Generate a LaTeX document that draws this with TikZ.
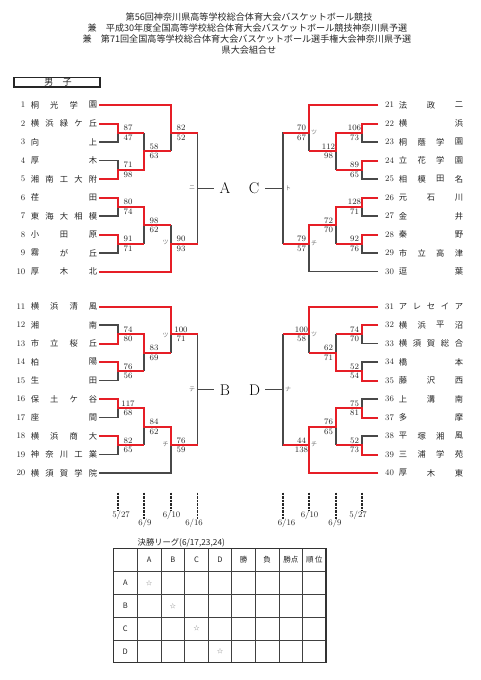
\documentclass[tikz,border=0pt]{standalone}
\usepackage{fontspec}
\newfontfamily\jp{Noto Sans CJK JP}
\definecolor{rd}{RGB}{230,30,38}
\definecolor{gl}{RGB}{72,72,72}
\newcommand\teamL[4]{%
  \node[tnum,anchor=east] (num#1) at (25.5,#2) {#1};
  \foreach \ch [count=\k] in {#4} {\pgfmathsetmacro\xx{35+(\k-1)*58/(#3-1)}\node[tch] (c#1x\k) at (\xx,#2) {\ch};}}
\newcommand\teamR[4]{%
  \node[tnum,anchor=west] (num#1) at (385,#2) {#1};
  \foreach \ch [count=\k] in {#4} {\pgfmathsetmacro\xx{403+(\k-1)*56/(#3-1)}\node[tch] (c#1x\k) at (\xx,#2) {\ch};}}
\newcommand\scL[5]{%
  \node[sc] (#1a) at (#2+10,#3-4.5) {#4};
  \node[sc] (#1b) at (#2+10,#3+5) {#5};}
\newcommand\scR[5]{%
  \node[sc] (#1a) at (#2-7.5,#3-4.5) {#4};
  \node[sc] (#1b) at (#2-7.5,#3+5) {#5};}
% T A B C D E
\newcommand\skel[6]{%
  \draw[gline] (#1,105) -- (#4,105) -- (#4,151.25);
  \draw[gline] (#1,123.5) -- (#2,123.5) -- (#2,142) -- (#1,142);
  \draw[gline] (#1,160.5) -- (#2,160.5) -- (#2,179) -- (#1,179);
  \draw[gline] (#1,197.5) -- (#2,197.5) -- (#2,216) -- (#1,216);
  \draw[gline] (#1,234.5) -- (#2,234.5) -- (#2,253) -- (#1,253);
  \draw[gline] (#1,271.5) -- (#4,271.5) -- (#4,225.25);
  \draw[gline] (#2,132.75) -- (#3,132.75);
  \draw[gline] (#2,169.75) -- (#3,169.75);
  \draw[gline] (#2,206.75) -- (#3,206.75);
  \draw[gline] (#2,243.75) -- (#3,243.75);
  \draw[gline] (#3,132.75) -- (#3,169.75);
  \draw[gline] (#3,206.75) -- (#3,243.75);
  \draw[gline] (#3,151.25) -- (#4,151.25);
  \draw[gline] (#3,225.25) -- (#4,225.25);
  \draw[gline] (#4,132.75) -- (#5,132.75) -- (#5,243.75) -- (#4,243.75);
  \draw[gline] (#5,188.25) -- (#6,188.25);}
\begin{document}
\begin{tikzpicture}[x=1pt,y=-1pt,
  gline/.style={draw=gl,line width=1.1pt},
  rline/.style={draw=rd,line width=2pt},
  tch/.style={inner sep=0pt,font=\jp\fontsize{8.3}{9}\selectfont,text=black!85},
  tnum/.style={inner sep=0pt,font=\fontsize{8.5}{9}\selectfont,text=black!85},
  sc/.style={inner sep=0pt,font=\fontsize{8.3}{9}\selectfont,text=black!85},
  lab/.style={inner sep=0pt,font=\jp\fontsize{6}{6}\selectfont,text=black!55},
  big/.style={inner sep=0pt,font=\fontsize{15.5}{16}\selectfont},
  hd/.style={inner sep=0pt,font=\jp\fontsize{9.1}{10}\selectfont,text=black!85},
  dline/.style={draw=black!85,line width=1.4pt,dash pattern=on 0.9pt off 0.5pt},
  dt/.style={inner sep=0pt,font=\fontsize{8.5}{9}\selectfont,text=black!85},
  tbl/.style={draw=black!75,line width=1pt},
  tblo/.style={draw=black!80,line width=1.5pt},
  th/.style={inner sep=0pt,font=\jp\fontsize{7.5}{8}\selectfont,text=black!85},
  star/.style={inner sep=0pt,font=\jp\fontsize{6}{6}\selectfont,text=black!50}]
\fill[white] (0,0) rectangle (481,680);
\useasboundingbox (0,0) rectangle (481,680);
% header
\node[hd] (h1) at (249,17) {第56回神奈川県高等学校総合体育大会バスケットボール競技};
\node[hd,anchor=west] (h2) at (87.5,28) {兼　平成30年度全国高等学校総合体育大会バスケットボール競技神奈川県予選};
\node[hd,anchor=west] (h3) at (82.5,39) {兼　第71回全国高等学校総合体育大会バスケットボール選手権大会神奈川県予選};
\node[hd] (h4) at (249,50) {県大会組合せ};
\draw[draw=black!85,line width=1.4pt] (14,77.5) rectangle (100,87);
\node[hd] (boys) at (58,82.2) {男　子};
% skeletons
\skel{99}{118}{144}{171}{197.5}{214}
\skel{378}{362}{336}{309}{283}{265}
\begin{scope}[yshift=-201.5pt]
\skel{99}{118}{144}{171}{197.5}{214}
\skel{378}{362}{336}{309}{283}{265}
\end{scope}
% red winner paths: left top
\draw[rline] (99,105)--(171,105)--(171,132.75)--(197.5,132.75);
\draw[rline] (99,123.5)--(118,123.5)--(118,132.75)--(144,132.75);
\draw[rline] (99,179)--(118,179)--(118,169.75)--(144,169.75)--(144,151.25)--(171,151.25);
\draw[rline] (99,197.5)--(118,197.5)--(118,206.75)--(144,206.75)--(144,225.25)--(171,225.25);
\draw[rline] (99,234.5)--(118,234.5)--(118,243.75)--(144,243.75);
\draw[rline] (99,271.5)--(171,271.5)--(171,243.75)--(197.5,243.75);
% right top
\draw[rline] (378,105)--(309,105)--(309,132.75)--(283,132.75);
\draw[rline] (378,123.5)--(362,123.5)--(362,132.75)--(336,132.75)--(336,151.25)--(309,151.25);
\draw[rline] (378,160.5)--(362,160.5)--(362,169.75)--(336,169.75);
\draw[rline] (378,197.5)--(362,197.5)--(362,206.75)--(336,206.75)--(336,225.25)--(309,225.25)--(309,243.75)--(283,243.75);
\draw[rline] (378,234.5)--(362,234.5)--(362,243.75)--(336,243.75);
% left bottom
\draw[rline] (99,306.5)--(171,306.5)--(171,334.25)--(197.5,334.25);
\draw[rline] (99,343.5)--(118,343.5)--(118,334.25)--(144,334.25)--(144,352.75)--(171,352.75);
\draw[rline] (99,362)--(118,362)--(118,371.25)--(144,371.25);
\draw[rline] (99,399)--(118,399)--(118,408.25)--(144,408.25)--(144,426.75)--(171,426.75)--(171,445.25)--(197.5,445.25);
\draw[rline] (99,436)--(118,436)--(118,445.25)--(144,445.25);
% right bottom
\draw[rline] (378,306.5)--(309,306.5)--(309,334.25)--(283,334.25);
\draw[rline] (378,325)--(362,325)--(362,334.25)--(336,334.25);
\draw[rline] (378,380.5)--(362,380.5)--(362,371.25)--(336,371.25)--(336,352.75)--(309,352.75);
\draw[rline] (378,417.5)--(362,417.5)--(362,408.25)--(336,408.25)--(336,426.75)--(309,426.75)--(309,445.25);
\draw[rline] (378,454.5)--(362,454.5)--(362,445.25)--(336,445.25);
\draw[rline] (378,473)--(309,473)--(309,445.25)--(283,445.25);
% teams
\teamL{1}{105}{4}{桐,光,学,園}
\teamL{2}{123.5}{5}{横,浜,緑,ケ,丘}
\teamL{3}{142}{2}{向,上}
\teamL{4}{160.5}{2}{厚,木}
\teamL{5}{179}{5}{湘,南,工,大,附}
\teamL{6}{197.5}{2}{荏,田}
\teamL{7}{216}{5}{東,海,大,相,模}
\teamL{8}{234.5}{3}{小,田,原}
\teamL{9}{253}{3}{霧,が,丘}
\teamL{10}{271.5}{3}{厚,木,北}
\teamL{11}{306.5}{4}{横,浜,清,風}
\teamL{12}{325}{2}{湘,南}
\teamL{13}{343.5}{4}{市,立,桜,丘}
\teamL{14}{362}{2}{柏,陽}
\teamL{15}{380.5}{2}{生,田}
\teamL{16}{399}{4}{保,土,ケ,谷}
\teamL{17}{417.5}{2}{座,間}
\teamL{18}{436}{4}{横,浜,商,大}
\teamL{19}{454.5}{5}{神,奈,川,工,業}
\teamL{20}{473}{5}{横,須,賀,学,院}
\teamR{21}{105}{3}{法,政,二}
\teamR{22}{123.5}{2}{横,浜}
\teamR{23}{142}{4}{桐,蔭,学,園}
\teamR{24}{160.5}{4}{立,花,学,園}
\teamR{25}{179}{4}{相,模,田,名}
\teamR{26}{197.5}{3}{元,石,川}
\teamR{27}{216}{2}{金,井}
\teamR{28}{234.5}{2}{秦,野}
\teamR{29}{253}{4}{市,立,高,津}
\teamR{30}{271.5}{2}{逗,葉}
\teamR{31}{306.5}{5}{ア,レ,セ,イ,ア}
\teamR{32}{325}{4}{横,浜,平,沼}
\teamR{33}{343.5}{5}{横,須,賀,総,合}
\teamR{34}{362}{2}{橋,本}
\teamR{35}{380.5}{3}{藤,沢,西}
\teamR{36}{399}{3}{上,溝,南}
\teamR{37}{417.5}{2}{多,摩}
\teamR{38}{436}{4}{平,塚,湘,風}
\teamR{39}{454.5}{4}{三,浦,学,苑}
\teamR{40}{473}{3}{厚,木,東}
% scores
\scL{s1}{118}{132.75}{87}{47}
\scL{s2}{118}{169.75}{71}{98}
\scL{s3}{144}{151.25}{58}{63}
\scL{s4}{171}{132.75}{82}{52}
\scL{s5}{118}{206.75}{80}{74}
\scL{s6}{118}{243.75}{91}{71}
\scL{s7}{144}{225.25}{98}{62}
\scL{s8}{171}{243.75}{90}{93}
\scR{s9}{362}{132.75}{106}{73}
\scR{s10}{362}{169.75}{89}{65}
\scR{s11}{336}{151.25}{112}{98}
\scR{s12}{309}{132.75}{70}{67}
\scR{s13}{362}{206.75}{128}{71}
\scR{s14}{362}{243.75}{92}{76}
\scR{s15}{336}{225.25}{72}{70}
\scR{s16}{309}{243.75}{79}{57}
\scL{s17}{118}{334.25}{74}{80}
\scL{s18}{118}{371.25}{76}{56}
\scL{s19}{144}{352.75}{83}{69}
\scL{s20}{171}{334.25}{100}{71}
\scL{s21}{118}{408.25}{117}{68}
\scL{s22}{118}{445.25}{82}{65}
\scL{s23}{144}{426.75}{84}{62}
\scL{s24}{171}{445.25}{76}{59}
\scR{s25}{362}{334.25}{74}{70}
\scR{s26}{362}{371.25}{52}{54}
\scR{s27}{336}{352.75}{62}{71}
\scR{s28}{309}{334.25}{100}{58}
\scR{s29}{362}{408.25}{75}{81}
\scR{s30}{362}{445.25}{52}{73}
\scR{s31}{336}{426.75}{76}{65}
\scR{s32}{309}{445.25}{44}{138}
% katakana labels
\node[lab] (k1) at (192,188) {ニ};
\node[lab] (k2) at (165.5,242.5) {ツ};
\node[lab] (k3) at (288,188) {ト};
\node[lab] (k4) at (314,132) {ツ};
\node[lab] (k5) at (314,243.5) {チ};
\node[lab] (k6) at (192,389.5) {テ};
\node[lab] (k7) at (165.5,335) {ツ};
\node[lab] (k8) at (165.5,444) {チ};
\node[lab] (k9) at (288,389.5) {ナ};
\node[lab] (k10) at (314,334) {ツ};
\node[lab] (k11) at (314,444.5) {チ};
% group letters
\node[big] (gA) at (225,188.25) {A};
\node[big] (gC) at (254,188.25) {C};
\node[big] (gB) at (225,389.75) {B};
\node[big] (gD) at (254.5,389.75) {D};
% dates
\draw[dline] (118,492.7)--(118,510);
\draw[dline] (144,492.7)--(144,519);
\draw[dline] (171,492.7)--(171,510);
\draw[dline] (197.5,492.7)--(197.5,519);
\draw[dline] (283,492.7)--(283,519);
\draw[dline] (309,492.7)--(309,510);
\draw[dline] (336,492.7)--(336,519);
\draw[dline] (362,492.7)--(362,510);
\node[dt] (d1) at (121,515) {5/27};
\node[dt] (d2) at (145,523.5) {6/9};
\node[dt] (d3) at (171.5,515) {6/10};
\node[dt] (d4) at (194,523.5) {6/16};
\node[dt] (d5) at (286.5,523.5) {6/16};
\node[dt] (d6) at (309.5,515) {6/10};
\node[dt] (d7) at (335,523.5) {6/9};
\node[dt] (d8) at (358,515) {5/27};
% league table
\node[hd,anchor=west,font=\jp\fontsize{8.3}{9}\selectfont] (lt) at (137.5,542.5) {決勝リーグ(6/17,23,24)};
\foreach \xv in {137.3,161,184.7,208.3,231.7,255.3,279,302.7} \draw[tbl] (\xv,548.3)--(\xv,662.7);
\foreach \yv in {571.7,594.3,617.3,640} \draw[tbl] (113.3,\yv)--(326,\yv);
\draw[tblo] (113.3,548.3) rectangle (326,662.7);
\node[th] (hA) at (149.15,560) {A};
\node[th] (hB) at (172.85,560) {B};
\node[th] (hC) at (196.5,560) {C};
\node[th] (hD) at (220,560) {D};
\node[th] (hW) at (243.5,560) {勝};
\node[th] (hL) at (267.15,560) {負};
\node[th] (hP) at (290.85,560) {勝点};
\node[th] (hR) at (314.35,560) {順 位};
\node[th] (rA) at (125.3,583) {A};
\node[th] (rB) at (125.3,605.8) {B};
\node[th] (rC) at (125.3,628.65) {C};
\node[th] (rD) at (125.3,651.35) {D};
\node[star] (st1) at (149.15,583) {☆};
\node[star] (st2) at (172.85,605.8) {☆};
\node[star] (st3) at (196.5,628.65) {☆};
\node[star] (st4) at (220,651.35) {☆};
\end{tikzpicture}
\end{document}
